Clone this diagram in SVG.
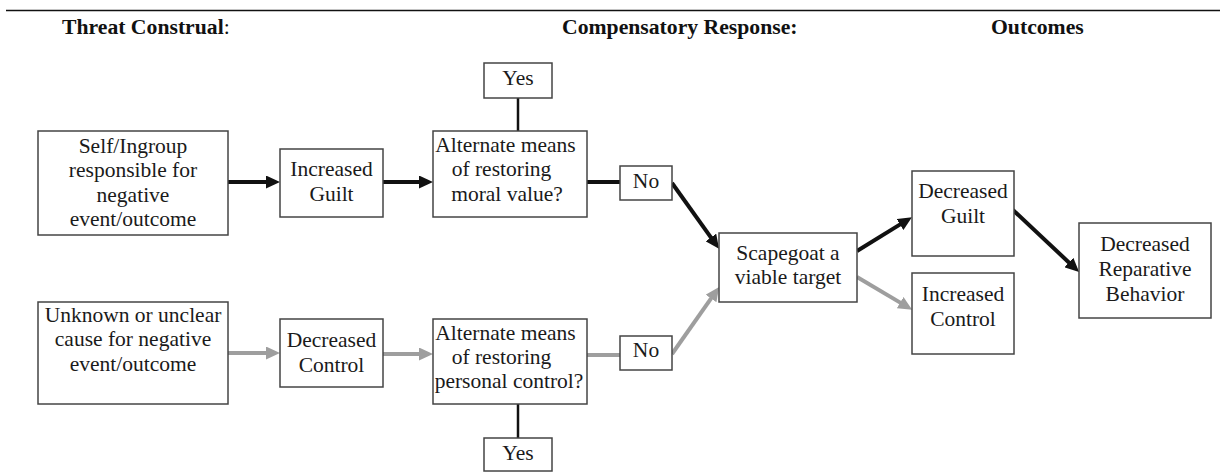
<svg xmlns="http://www.w3.org/2000/svg" width="1220" height="472" viewBox="0 0 1220 472">
<defs>
<style>
.box{fill:#fff;stroke:#444;stroke-width:1.5}
.t{font-family:'Liberation Serif',Tinos,'Times New Roman',Times,'DejaVu Serif',serif;font-size:21.5px;fill:#1a1a1a;text-anchor:middle}
.h{font-family:'Liberation Serif',Tinos,'Times New Roman',Times,'DejaVu Serif',serif;font-size:21.7px;font-weight:bold;fill:#111}
.blk{stroke:#111;stroke-width:4;fill:none}
.gry{stroke:#9e9e9e;stroke-width:4;fill:none}
.thin{stroke:#111;stroke-width:2.5;fill:none}
</style>
<marker id="ab" markerUnits="userSpaceOnUse" markerWidth="14" markerHeight="13" refX="4" refY="6.5" orient="auto"><path d="M0,0 L14,6.5 L0,13 z" fill="#111"/></marker>
<marker id="ag" markerUnits="userSpaceOnUse" markerWidth="14" markerHeight="13" refX="4" refY="6.5" orient="auto"><path d="M0,0 L14,6.5 L0,13 z" fill="#9e9e9e"/></marker>
</defs>
<rect width="1220" height="472" fill="#fff"/>
<line x1="6" y1="10.5" x2="1220" y2="10.5" stroke="#111" stroke-width="1.5"/>
<g id="headers">
<text class="h" x="62" y="34">Threat Construal<tspan font-weight="normal">:</tspan></text>
<text class="h" x="562" y="34">Compensatory Response:</text>
<text class="h" x="991" y="34">Outcomes</text>
</g>
<g id="connectors">
<line class="blk" x1="228" y1="182" x2="270" y2="182" marker-end="url(#ab)"/>
<line class="blk" x1="383" y1="182" x2="423" y2="182" marker-end="url(#ab)"/>
<line class="blk" x1="587" y1="182" x2="620" y2="182"/>
<line class="blk" x1="672" y1="183" x2="713.2" y2="240.7" marker-end="url(#ab)"/>
<line class="blk" x1="857" y1="251" x2="903.4" y2="222.4" marker-end="url(#ab)"/>
<line class="blk" x1="1013" y1="210" x2="1071.8" y2="265.2" marker-end="url(#ab)"/>
<line class="gry" x1="228" y1="353" x2="270" y2="353" marker-end="url(#ag)"/>
<line class="gry" x1="383" y1="354" x2="423" y2="354" marker-end="url(#ag)"/>
<line class="gry" x1="587" y1="355" x2="620" y2="355"/>
<line class="gry" x1="672" y1="354" x2="713.4" y2="295.2" marker-end="url(#ag)"/>
<line class="gry" x1="857" y1="277" x2="903.6" y2="304.6" marker-end="url(#ag)"/>
<line class="thin" x1="518" y1="98" x2="518" y2="131"/>
<line class="thin" x1="518" y1="404" x2="518" y2="438"/>
</g>
<g id="self-ingroup">
<rect class="box" x="38" y="131" width="190" height="104"/>
<text class="t" x="133" y="153">Self/Ingroup</text>
<text class="t" x="133" y="177">responsible for</text>
<text class="t" x="133" y="202">negative</text>
<text class="t" x="133" y="226">event/outcome</text>
</g>
<g id="increased-guilt">
<rect class="box" x="280" y="149" width="103" height="68"/>
<text class="t" x="331.5" y="176">Increased</text>
<text class="t" x="331.5" y="201">Guilt</text>
</g>
<g id="alt-moral">
<rect class="box" x="433" y="131" width="154" height="86"/>
<text class="t" x="505.5" y="152">Alternate means</text>
<text class="t" x="501.5" y="176">of restoring</text>
<text class="t" x="507" y="201">moral value?</text>
</g>
<g id="yes-top">
<rect class="box" x="484" y="63" width="68" height="35"/>
<text class="t" x="518" y="85">Yes</text>
</g>
<g id="no-top">
<rect class="box" x="620" y="166" width="52" height="34"/>
<text class="t" x="646" y="188">No</text>
</g>
<g id="unknown-cause">
<rect class="box" x="38" y="302" width="190" height="102"/>
<text class="t" x="133" y="322">Unknown or unclear</text>
<text class="t" x="133" y="346">cause for negative</text>
<text class="t" x="133" y="371">event/outcome</text>
</g>
<g id="decreased-control">
<rect class="box" x="280" y="319" width="103" height="68"/>
<text class="t" x="331.5" y="347">Decreased</text>
<text class="t" x="331.5" y="372">Control</text>
</g>
<g id="alt-control">
<rect class="box" x="433" y="319" width="154" height="85"/>
<text class="t" x="505.5" y="340">Alternate means</text>
<text class="t" x="501.5" y="364">of restoring</text>
<text class="t" x="509" y="388">personal control?</text>
</g>
<g id="no-bottom">
<rect class="box" x="620" y="336" width="52" height="34"/>
<text class="t" x="646" y="357">No</text>
</g>
<g id="yes-bottom">
<rect class="box" x="484" y="438" width="68" height="33"/>
<text class="t" x="518" y="460">Yes</text>
</g>
<g id="scapegoat">
<rect class="box" x="719" y="233" width="138" height="69"/>
<text class="t" x="788" y="260">Scapegoat a</text>
<text class="t" x="788" y="284">viable target</text>
</g>
<g id="decreased-guilt">
<rect class="box" x="912" y="171" width="102" height="85"/>
<text class="t" x="963" y="198">Decreased</text>
<text class="t" x="963" y="223">Guilt</text>
</g>
<g id="increased-control">
<rect class="box" x="912" y="273" width="102" height="81"/>
<text class="t" x="963" y="301">Increased</text>
<text class="t" x="963" y="326">Control</text>
</g>
<g id="decreased-reparative">
<rect class="box" x="1079" y="223" width="132" height="95"/>
<text class="t" x="1145" y="251">Decreased</text>
<text class="t" x="1145" y="276">Reparative</text>
<text class="t" x="1145" y="301">Behavior</text>
</g>
</svg>
